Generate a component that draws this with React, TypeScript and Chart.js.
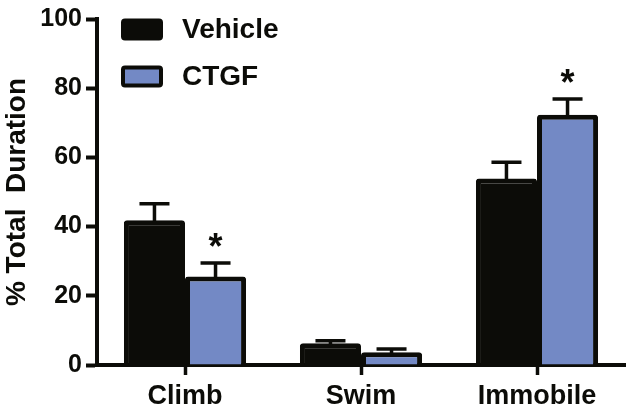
import React, { useEffect, useRef } from "react";
import { Chart, registerables } from "chart.js";

Chart.register(...registerables);

const categories = ["Climb", "Swim", "Immobile"];
const seriesLabels = ["Vehicle", "CTGF"];
const vehicleValues = [41.8, 6.3, 53.9];
const vehicleErrors = [4.8, 0.7, 4.7];
const ctgfValues = [25.6, 3.7, 72.3];
const ctgfErrors = [3.9, 0.9, 4.6];
const ctgfSignificant = [true, false, true];
const yTickValues = [0, 20, 40, 60, 80, 100];
const yTitle = "% Total  Duration";

const FONT = "'Liberation Sans', Arial, Helvetica, sans-serif";
const BLACK = "#0c0c08";
const BLUE = "#7389c5";

const errorBarPlugin = {
  id: "errorBars",
  afterDatasetsDraw(chart: any) {
    const ctx = chart.ctx;
    const yScale = chart.scales.y;
    const allErrors = [vehicleErrors, ctgfErrors];
    ctx.save();
    ctx.strokeStyle = BLACK;
    ctx.lineWidth = 3.5;
    chart.data.datasets.forEach((ds: any, i: number) => {
      const meta = chart.getDatasetMeta(i);
      meta.data.forEach((el: any, j: number) => {
        const v = ds.data[j];
        const e = allErrors[i][j];
        const yTop = yScale.getPixelForValue(v + e);
        const yBar = el.y;
        ctx.beginPath();
        ctx.moveTo(el.x, yBar + 2);
        ctx.lineTo(el.x, yTop);
        ctx.moveTo(el.x - 15, yTop);
        ctx.lineTo(el.x + 15, yTop);
        ctx.stroke();
        if (i === 1 && ctgfSignificant[j]) {
          ctx.fillStyle = BLACK;
          ctx.font = `bold 36px ${FONT}`;
          ctx.textAlign = "center";
          ctx.textBaseline = "alphabetic";
          const m = ctx.measureText("*");
          const cy = yTop - 22.5;
          const y = cy + (m.actualBoundingBoxAscent - m.actualBoundingBoxDescent) / 2;
          ctx.fillText("*", el.x, y);
        }
      });
    });
    ctx.restore();
  },
};

const legendPlugin = {
  id: "customLegend",
  afterDraw(chart: any) {
    const ctx = chart.ctx;
    const area = chart.chartArea;
    const boxX = area.left + 24;
    const boxW = 42;
    const boxH = 22;
    const rowCenters = [area.top + 10.5, area.top + 57.5];
    ctx.save();
    chart.data.datasets.forEach((ds: any, i: number) => {
      const cy = rowCenters[i];
      const top = cy - boxH / 2;
      ctx.beginPath();
      ctx.roundRect(boxX + 2, top + 2, boxW - 4, boxH - 4, 2);
      ctx.fillStyle = ds.backgroundColor;
      ctx.fill();
      ctx.lineWidth = 4;
      ctx.strokeStyle = BLACK;
      ctx.stroke();
      ctx.fillStyle = BLACK;
      ctx.font = `bold 28px ${FONT}`;
      ctx.textAlign = "left";
      ctx.textBaseline = "middle";
      ctx.fillText(ds.label, boxX + 61, cy + 1);
    });
    ctx.restore();
  },
};

export default function App() {
  const ref = useRef<HTMLCanvasElement>(null);

  useEffect(() => {
    document.body.style.margin = "0";
    const canvas = ref.current;
    if (!canvas) return;
    const chart = new Chart(canvas, {
      type: "bar",
      data: {
        labels: categories,
        datasets: [
          {
            label: seriesLabels[0],
            data: vehicleValues,
            backgroundColor: BLACK,
            borderColor: BLACK,
            borderWidth: 5,
            borderRadius: 3,
          },
          {
            label: seriesLabels[1],
            data: ctgfValues,
            backgroundColor: BLUE,
            borderColor: BLACK,
            borderWidth: 5,
            borderRadius: 3,
          },
        ],
      },
      options: {
        responsive: false,
        animation: false,
        layout: { padding: { top: 14.5, right: 5, left: 0, bottom: 0 } },
        datasets: {
          bar: { categoryPercentage: 0.694, barPercentage: 1 },
        },
        plugins: {
          legend: { display: false },
          tooltip: { enabled: false },
        },
        scales: {
          x: {
            grid: {
              display: true,
              drawOnChartArea: false,
              drawTicks: true,
              offset: false,
              tickLength: 10,
              tickWidth: 3.5,
              tickColor: BLACK,
            },
            border: { display: true, color: BLACK, width: 4 },
            ticks: {
              color: BLACK,
              padding: 5,
              font: { family: FONT, size: 27, weight: "bold" },
            },
            afterFit: (s: any) => {
              s.height = 42;
            },
          },
          y: {
            min: 0,
            max: 100,
            afterBuildTicks: (s: any) => {
              s.ticks = yTickValues.map((v) => ({ value: v }));
            },
            grid: {
              display: true,
              drawOnChartArea: false,
              drawTicks: true,
              tickLength: 11,
              tickWidth: 4,
              tickColor: BLACK,
            },
            border: { display: true, color: BLACK, width: 4 },
            ticks: {
              color: BLACK,
              padding: 4,
              font: { family: FONT, size: 25, weight: "bold" },
            },
            title: {
              display: true,
              text: yTitle,
              color: BLACK,
              padding: { top: 0, bottom: 0 },
              font: { family: FONT, size: 28, weight: "bold" },
            },
            afterFit: (s: any) => {
              s.width = 97;
            },
          },
        },
      },
      plugins: [errorBarPlugin, legendPlugin],
    });
    return () => chart.destroy();
  }, []);

  return (
    <div style={{ width: 630, height: 407 }}>
      <canvas ref={ref} width={630} height={407} />
    </div>
  );
}
